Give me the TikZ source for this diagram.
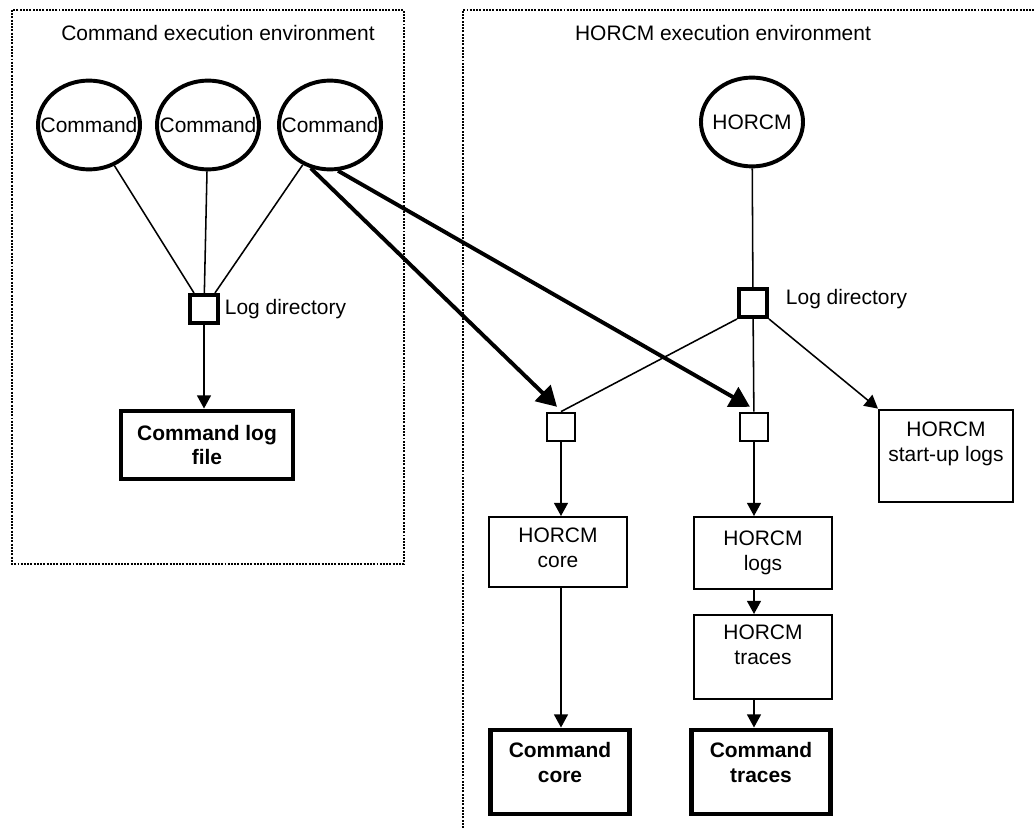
\documentclass[tikz,border=0pt]{standalone}
\usepackage{fontspec}
\setmainfont{Liberation Sans}
\usetikzlibrary{arrows.meta,positioning,shapes.geometric}
\newcommand{\diafont}{\fontsize{14.9}{17.7}\selectfont}
\tikzset{
  envframe/.style={line width=1.4pt, dash pattern=on 1.4pt off 0.9pt},
  proc/.style={ellipse, draw, line width=2.8pt, minimum width=2.55cm,
    minimum height=2.22cm, inner sep=0pt},
  logdir/.style={draw, line width=2.8pt, minimum size=0.7cm, inner sep=0pt},
  subdir/.style={draw, line width=1.4pt, minimum size=0.72cm, inner sep=0pt},
  filebox/.style={draw, line width=1.4pt, align=center, inner sep=0pt},
  outbox/.style={filebox, line width=3.5pt, font=\diafont\bfseries},
  link/.style={line width=1.1pt},
  feed/.style={link, -{Triangle[length=0.33cm, width=0.35cm]}},
  grab/.style={line width=2.8pt, -{Triangle[length=0.5cm, width=0.55cm]}},
}
\begin{document}
\begin{tikzpicture}[x=0.025cm, y=-0.025cm, font=\diafont]
    \useasboundingbox (0,0) rectangle (1034,828);
    % --- execution environments ---
    \draw[envframe] (12,10) rectangle (404,564);
    \draw[envframe] (463,828) -- (463,10) -- (1034,10);
    \node (cmdenv) at (218,33) {Command execution environment};
    \node (hrcenv) at (723,33) {HORCM execution environment};
    % --- nodes, explicit coordinates ---
    \node[proc] (cmdA)  at (89,125)  {\makebox[0pt]{Command}};
    \node[proc] (cmdB)  at (208,125) {\makebox[0pt]{Command}};
    \node[proc] (cmdC)  at (330,125) {\makebox[0pt]{Command}};
    \node[proc] (horcm) at (752,122) {\makebox[0pt]{HORCM}};
    \node[logdir] (ldcmd) at (204,309) {};
    \node[logdir] (ldhrc) at (753,303) {};
    \node[right=0pt of ldcmd] (ldcmdtxt) {Log directory};
    \node[right=0.3cm of ldhrc, yshift=0.1cm] (ldhrctxt) {Log directory};
    \node[outbox, minimum width=4.3cm, minimum height=1.7cm] (logfile) at (207,445)
      {Command log\\file};
    \node[subdir] (dcore) at (561,427) {};
    \node[subdir] (dlogs) at (754,427) {};
    \node[filebox, minimum width=3.45cm, minimum height=1.75cm, text depth=6pt]
      (hcore) at (558,552) {HORCM\\core};
    \node[filebox, minimum width=3.45cm, minimum height=1.8cm]
      (hlogs) at (763,553) {HORCM\\logs};
    \node[filebox, minimum width=3.45cm, minimum height=2.1cm, text depth=17pt]
      (htrace) at (763,657) {HORCM\\traces};
    \node[filebox, minimum width=3.35cm, minimum height=2.32cm, text depth=20pt]
      (hstart) at (946,456) {HORCM\\start-up logs};
    \node[outbox, minimum width=3.48cm, minimum height=2.1cm, text depth=14pt]
      (ccore) at (560,772) {Command\\core};
    \node[outbox, minimum width=3.48cm, minimum height=2.1cm, text depth=14pt]
      (ctrace) at (761,772) {Command\\traces};
    % --- command side ---
    \draw[link] (cmdA) -- (ldcmd);
    \draw[link] (cmdB) -- (ldcmd);
    \draw[link] (cmdC) -- (ldcmd);
    \draw[feed] (ldcmd) -- (ldcmd |- logfile.north);
    % --- HORCM side ---
    \draw[link] (horcm) -- (ldhrc);
    \draw[link] (ldhrc.south west) -- (dcore.north);
    \draw[link] (ldhrc) -- (dlogs);
    \draw[feed] (ldhrc.south east) -- (hstart.north west);
    \draw[feed] (dcore) -- (dcore |- hcore.north);
    \draw[feed] (dlogs) -- (dlogs |- hlogs.north);
    \draw[feed] (hcore.south -| dcore) -- (ccore.north -| dcore);
    \draw[feed] (hlogs.south -| dlogs) -- (htrace.north -| dlogs);
    \draw[feed] (htrace.south -| dlogs) -- (ctrace.north -| dlogs);
    % commands write into the HORCM directories
    \draw[grab] (cmdC.-114) -- ([xshift=-0.1cm, yshift=0.12cm]dcore.north);
    \draw[grab] (cmdC.-80) -- ([xshift=-0.1cm, yshift=0.12cm]dlogs.north);
  \end{tikzpicture}
\end{document}
